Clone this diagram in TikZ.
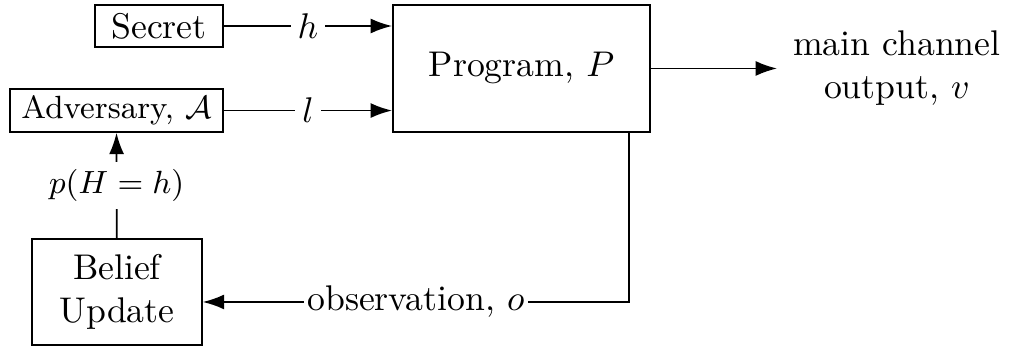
\documentclass[tikz,border=0pt]{standalone}
\usepackage{amsmath}
\usepackage{tikz}
\usetikzlibrary{arrows.meta}

\tikzset{
  block/.style={draw, rectangle, inner sep=0pt, align=center},
  gap/.style={fill=white, inner sep=2pt},
  every picture/.style={line width=0.5pt, >={Latex[length=6pt,width=4.2pt]}},
}

\begin{document}
\begin{tikzpicture}
    \useasboundingbox (0,0) rectangle (9.969,3.415);

    \node[block, minimum width=1.26cm, minimum height=0.41cm] (secret) at (1.565,3.159) {Secret};
    \node[block, minimum width=2.10cm, minimum height=0.42cm] (adversary) at (1.146,2.327) {\small Adversary, $\mathcal{A}$};
    \node[block, minimum width=2.53cm, minimum height=1.25cm] (program) at (5.132,2.741) {Program, $P$};
    \node[block, minimum width=1.67cm, minimum height=1.04cm] (belief) at (1.151,0.541) {Belief\\Update};
    \node[align=center, inner xsep=0.15cm, inner ysep=0pt, anchor=west] (output) at (7.647,2.741) {main channel\\output, $v$};
    \coordinate (corner) at (6.19,0.443);

    \draw[->] (secret) -- node[gap] {$h$} (secret -| program.west);
    \draw[->] (adversary) -- node[gap] {$l$} (adversary -| program.west);
    \draw[->] (program) -- (output);

    \draw[->] (belief) -- node[gap] {\small $p(H=h)$} (adversary);
    \draw[->] (program.south -| corner) -- (corner) -- node[gap, inner sep=1pt] {observation, $o$} (belief.east |- corner);
\end{tikzpicture}
\end{document}
